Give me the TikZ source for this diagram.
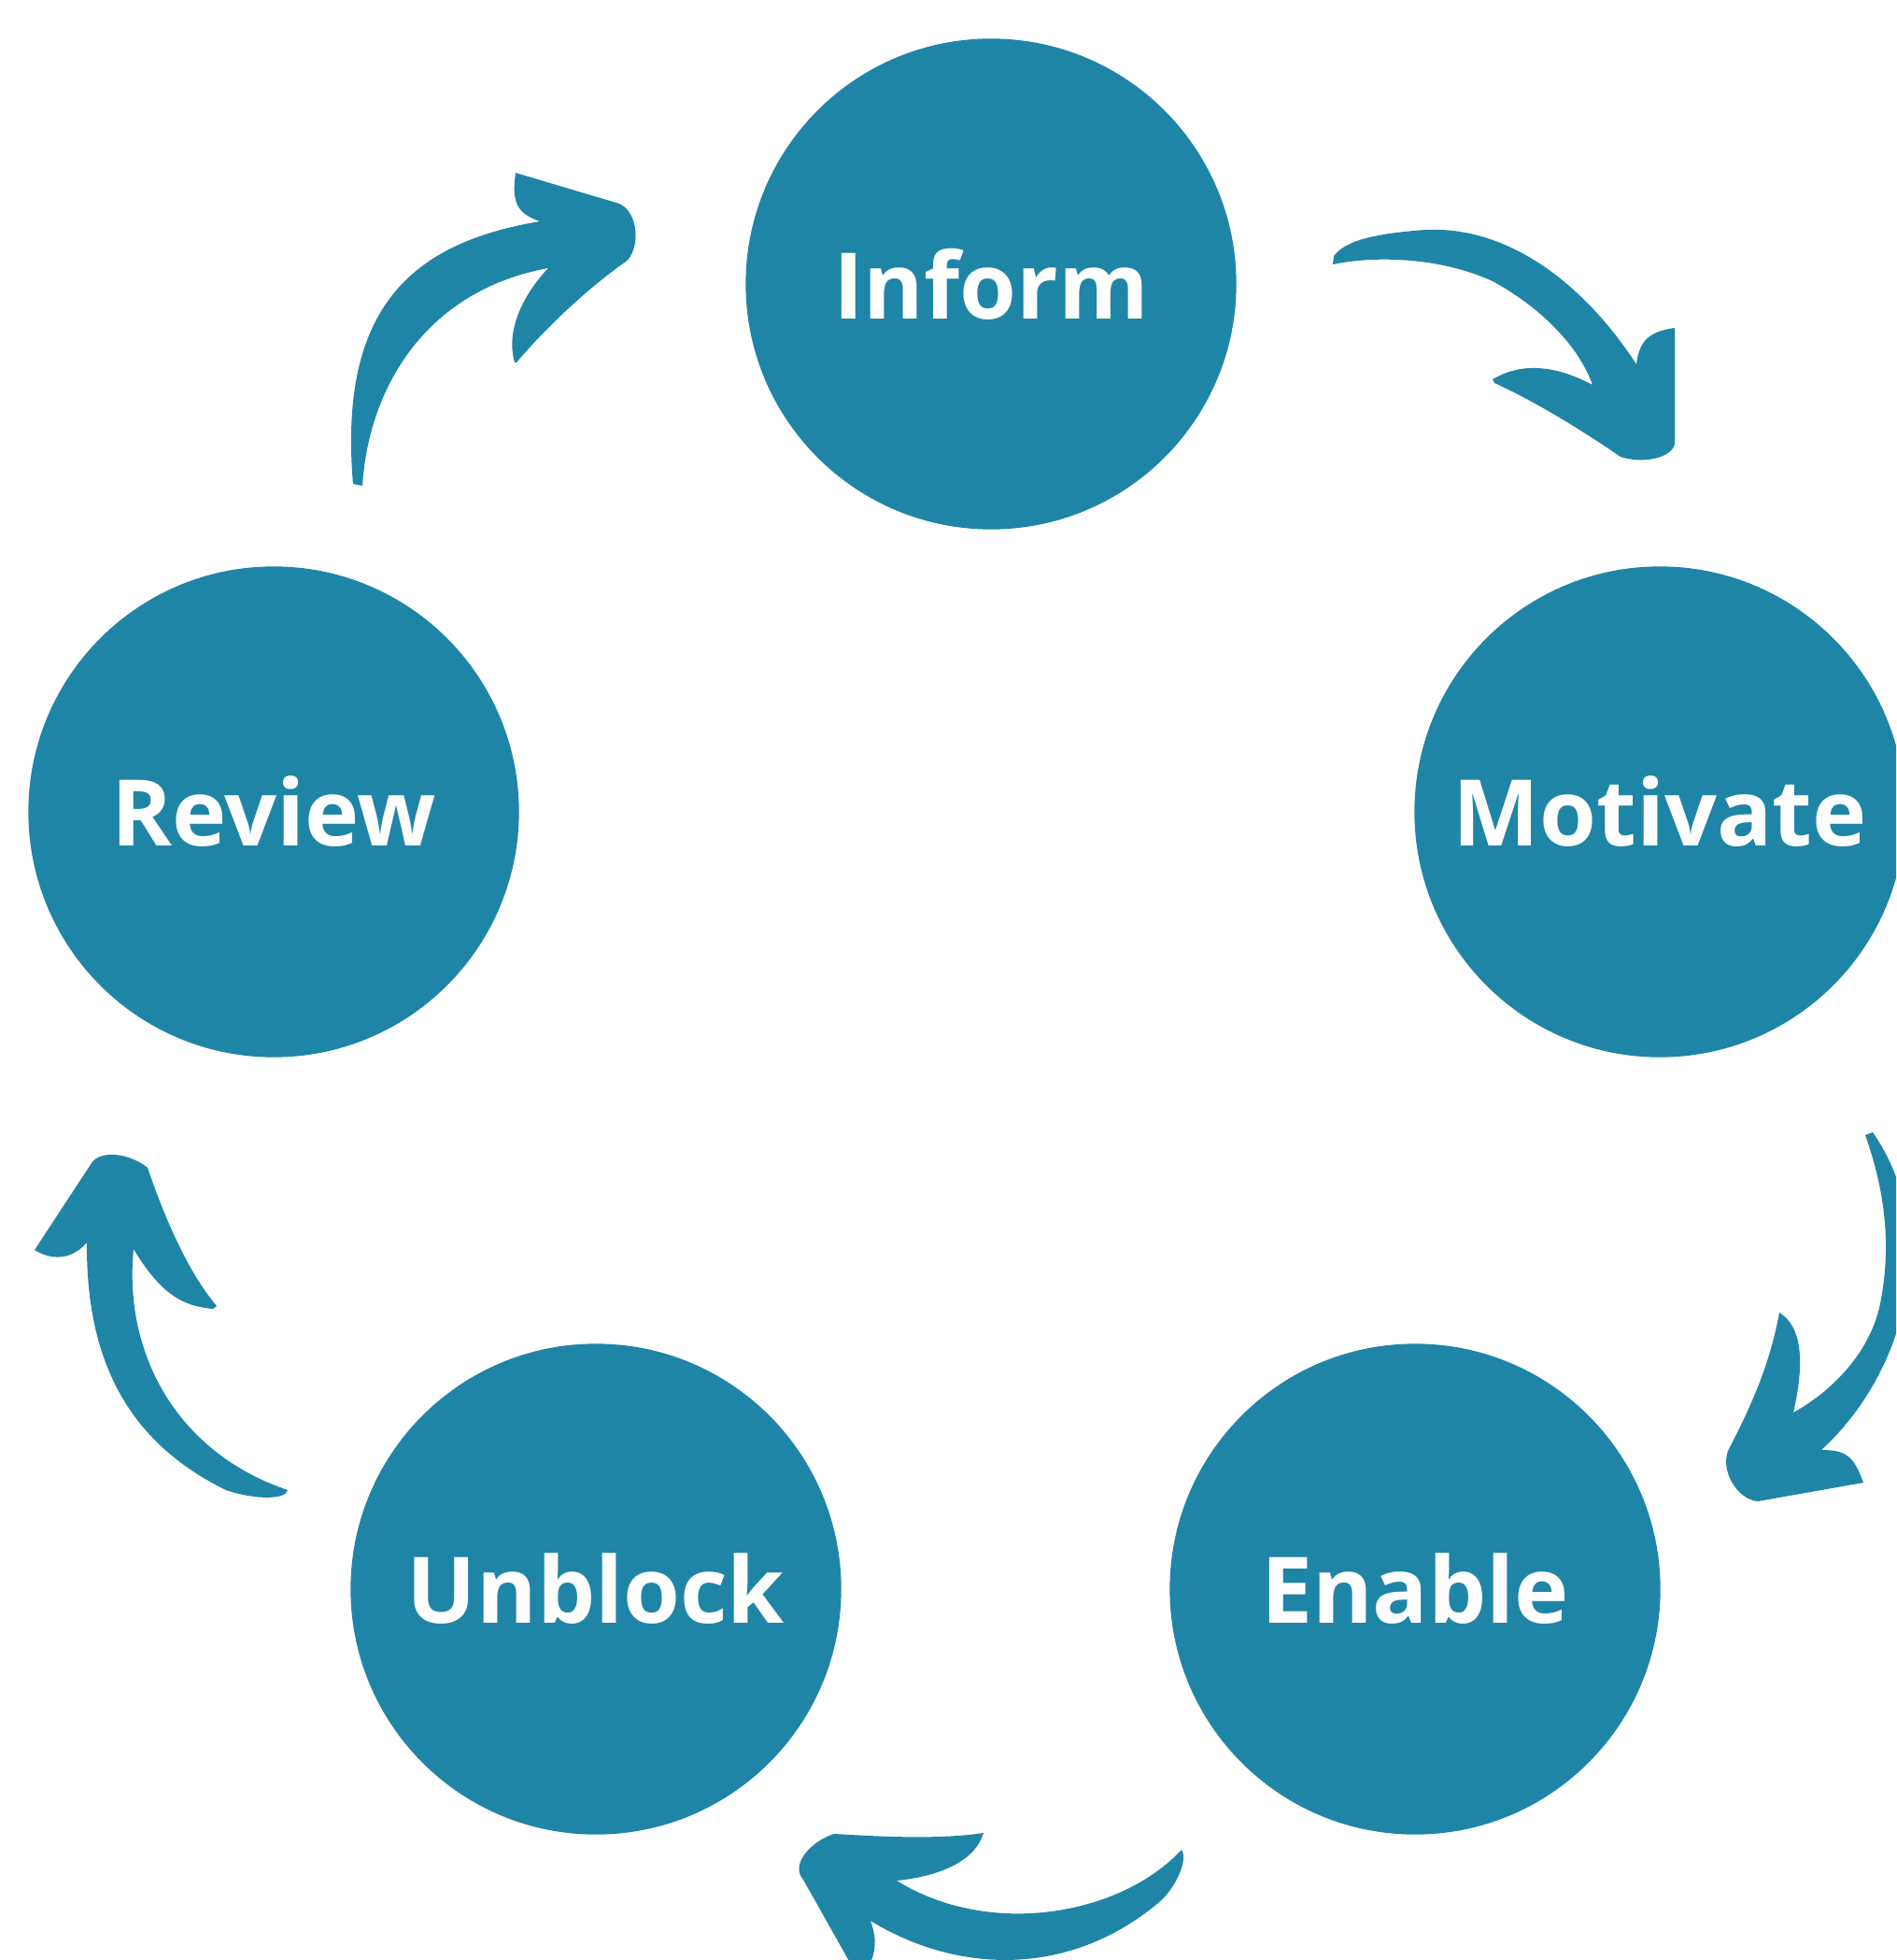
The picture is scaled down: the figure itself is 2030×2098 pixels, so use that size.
\documentclass[tikz,border=0pt]{standalone}
\usepackage{fontspec}
\setmainfont{Open Sans}
\definecolor{stageblue}{RGB}{31,133,166}

\begin{document}
\begin{tikzpicture}[
    x=0.01cm, y=-0.01cm,
    stage/.style={circle, fill=stageblue, minimum size=5.25cm, inner sep=0pt, text=white, font=\fontsize{28}{34}\selectfont\bfseries},
    brush/.style={fill=stageblue}
]

% Cadre de la page
\clip (0,0) rectangle (2030,2098);

% Etapes du cycle
\node[stage] (inform) at (1061,304) {Inform};
\node[stage] (motivate) at (1777,869) {Motivate};
\node[stage] (enable) at (1515,1701) {Enable};
\node[stage] (unblock) at (638,1701) {Unblock};
\node[stage] (review) at (293,869) {Review};

% Fleche Review -> Inform
\fill[brush] (388,520) .. controls (395,410) and (460,310) .. (587,287)
    .. controls (565,310) and (540,350) .. (551,388) -- (553,388)
    .. controls (585,350) and (630,308) .. (670,280)
    .. controls (685,268) and (685,228) .. (663,218) -- (552,185)
    .. controls (548,215) and (552,228) .. (578,237)
    .. controls (440,260) and (362,330) .. (378,518) -- cycle;

% Fleche Inform -> Motivate
\fill[brush] (1427,283) -- (1428,274)
    .. controls (1440,258) and (1470,250) .. (1527,246)
    .. controls (1620,242) and (1700,310) .. (1752,390)
    .. controls (1755,365) and (1765,355) .. (1793,351) -- (1793,475)
    .. controls (1790,490) and (1760,497) .. (1735,489)
    .. controls (1690,458) and (1640,428) .. (1600,410) -- (1598,406)
    .. controls (1625,390) and (1660,388) .. (1705,412)
    .. controls (1690,370) and (1650,330) .. (1600,302)
    .. controls (1550,278) and (1480,272) .. (1427,283) -- cycle;

% Fleche Motivate -> Enable
\fill[brush] (1997,1215) .. controls (2020,1280) and (2025,1340) .. (2012,1400)
    .. controls (2000,1450) and (1960,1490) .. (1920,1512)
    .. controls (1932,1460) and (1930,1420) .. (1905,1405)
    .. controls (1895,1460) and (1875,1505) .. (1850,1553)
    .. controls (1842,1575) and (1860,1605) .. (1882,1607) -- (1995,1587)
    .. controls (1985,1560) and (1978,1552) .. (1950,1552)
    .. controls (2040,1470) and (2080,1320) .. (2005,1212) -- cycle;

% Fleche Enable -> Unblock
\fill[brush] (1265,1980) .. controls (1200,2050) and (1060,2075) .. (960,2013)
    .. controls (1010,2008) and (1045,1990) .. (1053,1962)
    .. controls (1000,1970) and (930,1965) .. (893,1963)
    .. controls (870,1970) and (845,1995) .. (860,2012) -- (918,2115) -- (930,2105)
    .. controls (940,2085) and (937,2070) .. (932,2056)
    .. controls (1020,2110) and (1140,2120) .. (1240,2037)
    .. controls (1260,2020) and (1272,1990) .. (1265,1980) -- cycle;

% Fleche Unblock -> Review
\fill[brush] (37,1338) -- (98,1245)
    .. controls (108,1230) and (140,1235) .. (158,1250)
    .. controls (175,1300) and (200,1360) .. (232,1398) -- (228,1401)
    .. controls (195,1398) and (172,1385) .. (143,1337)
    .. controls (132,1450) and (190,1555) .. (308,1595)
    .. controls (306,1605) and (275,1606) .. (242,1595)
    .. controls (140,1545) and (92,1460) .. (93,1330)
    .. controls (80,1345) and (60,1352) .. (37,1338) -- cycle;

\end{tikzpicture}
\end{document}
